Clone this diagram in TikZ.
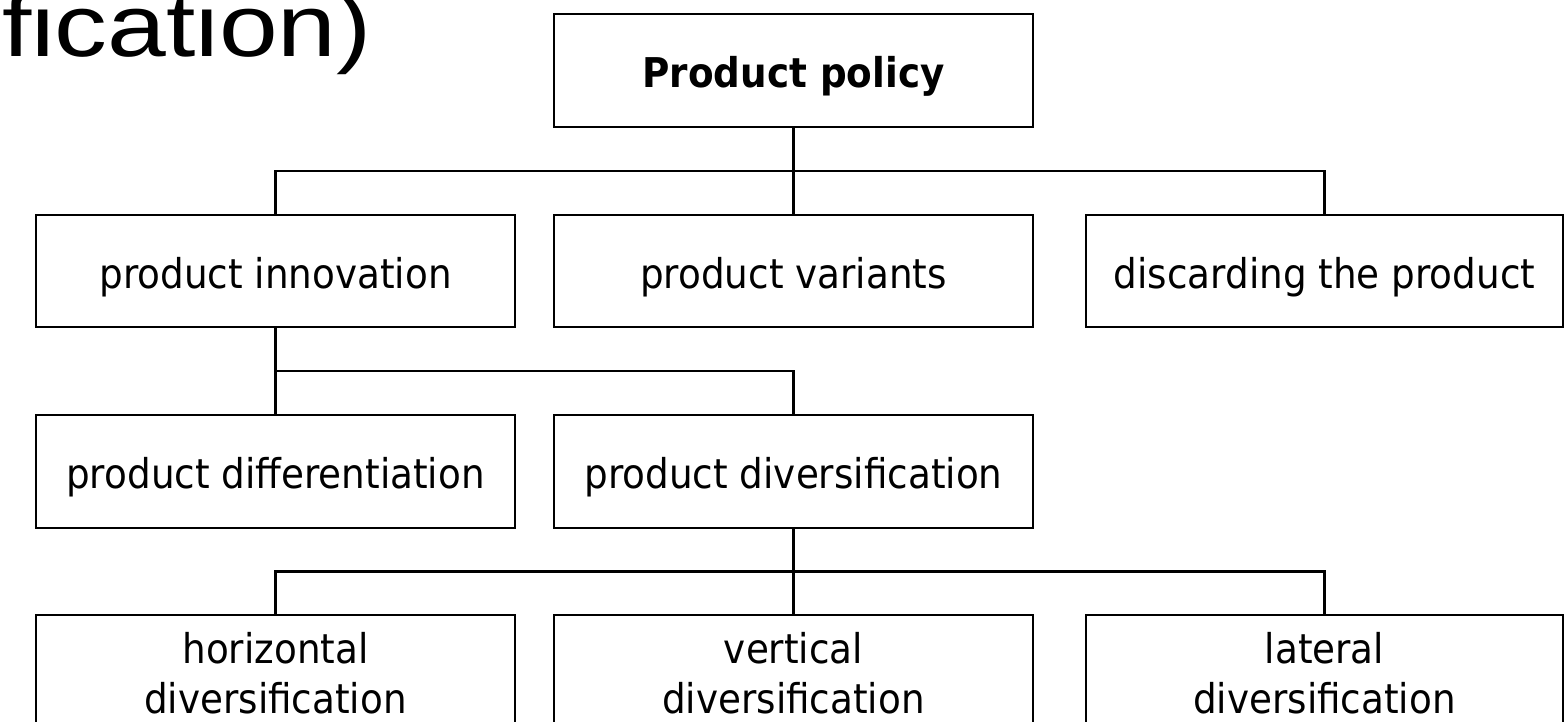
\documentclass[tikz,border=0pt]{standalone}
\usepackage{fontspec}
\setmainfont{DejaVu Sans}[FakeStretch=0.91]
\newfontfamily\titlefont{Liberation Sans}[FakeStretch=1.2]
\usetikzlibrary{calc}

\tikzset{
  box/.style={draw=black, line width=2.1pt, rectangle, inner sep=0pt,
    minimum width=479pt, minimum height=113pt, align=center,
    font=\fontsize{41}{50}\selectfont, text height=39pt, text depth=5pt},
  twoline/.style={text height=89pt, text depth=5pt},
  link/.style={draw=black, line width=2.1pt}
}

\begin{document}
\begin{tikzpicture}[x=1pt, y=-1pt]
  \useasboundingbox (0,0) rectangle (1564,722);
  \clip (0,0) rectangle (1564,722);
  \fill[white] (0,0) rectangle (1564,722);

  % heading fragment at the top left
  \node[anchor=base east, inner sep=0pt, font=\titlefont\fontsize{88}{100}\selectfont]
    (title) at (372,57) {fication)};

  % level 1
  \node[box, font=\bfseries\fontsize{41}{50}\selectfont] (pp) at (793.5,70.5) {Product policy};

  % level 2
  \node[box, minimum height=112pt] (pi) at (275.5,271) {product innovation};
  \node[box, minimum height=112pt] (pv) at (793.5,271) {product variants};
  \node[box, minimum height=112pt, minimum width=477pt] (dp) at (1324.5,271) {discarding the product};

  % level 3
  \node[box] (pdf) at (275.5,471.5) {product differentiation};
  \node[box] (pdv) at (793.5,471.5) {product diversification};

  % level 4
  \node[box, twoline] (hd) at (275.5,671.5) {horizontal\\diversification};
  \node[box, twoline] (vd) at (793.5,671.5) {vertical\\diversification};
  \node[box, twoline, minimum width=477pt] (ld) at (1324.5,671.5) {lateral\\diversification};

  % connectors
  \coordinate (bar1) at ($(pp.south)!0.5!(pv.north)$);
  \draw[link] (pp.south) -- (pv.north);
  \draw[link] (pi.north) |- (bar1) -| (dp.north);

  \coordinate (bar2) at ($(pi.south)!0.5!(pdf.north)$);
  \draw[link] (pi.south) -- (pdf.north);
  \draw[link] (bar2) -| (pdv.north);

  \coordinate (bar3) at ($(pdv.south)!0.5!(vd.north)$);
  \draw[link] (pdv.south) -- (vd.north);
  \draw[link] (hd.north) |- (bar3) -| (ld.north);
\end{tikzpicture}
\end{document}
